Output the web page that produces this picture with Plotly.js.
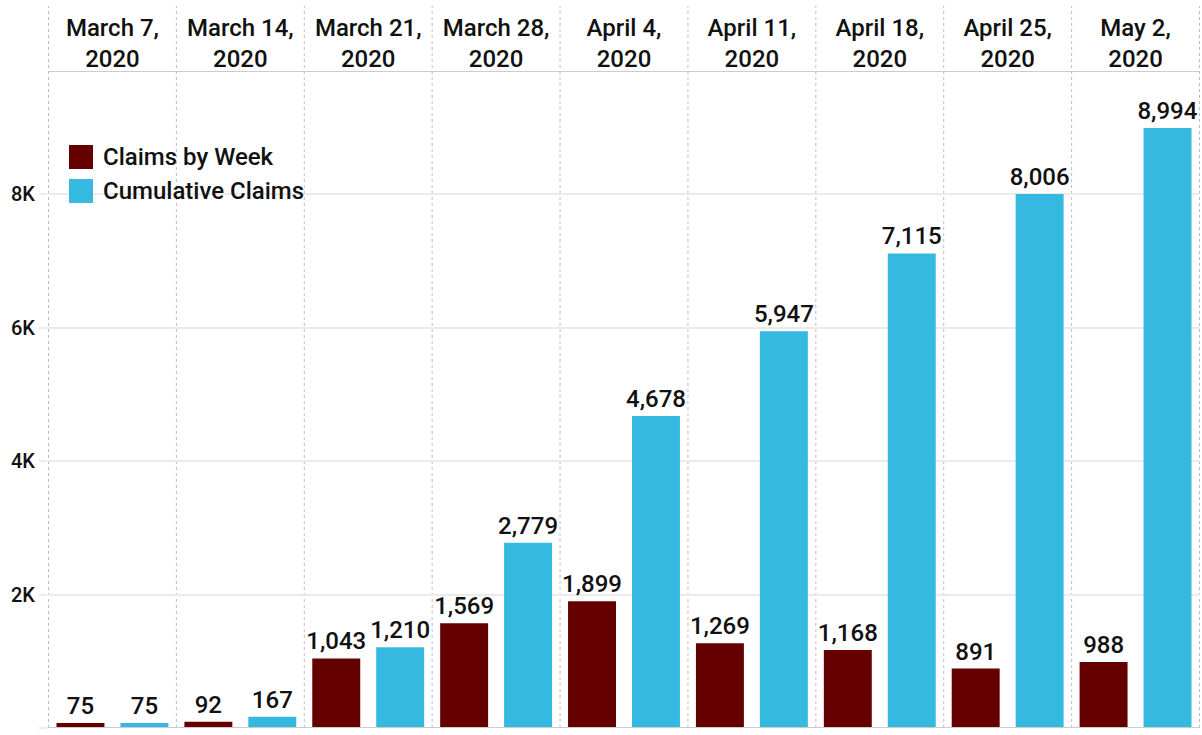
<!DOCTYPE html>
<html>
<head>
<meta charset="utf-8">
<script src="https://cdn.plot.ly/plotly-3.0.1.min.js"></script>
<style>html,body{margin:0;padding:0;background:#fff;}#chart{width:1202px;height:735px;}</style>
</head>
<body>
<div id="chart"></div>
<script>
const weeks = ["March 7,<br>2020","March 14,<br>2020","March 21,<br>2020","March 28,<br>2020","April 4,<br>2020","April 11,<br>2020","April 18,<br>2020","April 25,<br>2020","May 2,<br>2020"];
const claimsByWeek = [75, 92, 1043, 1569, 1899, 1269, 1168, 891, 988];
const cumulativeClaims = [75, 167, 1210, 2779, 4678, 5947, 7115, 8006, 8994];
const seriesNames = ["Claims by Week", "Cumulative Claims"];
const seriesColors = ["#650000", "#36B9E0"];
const yTickVals = [0, 2000, 4000, 6000, 8000];
const yTickText = ["0K", "2K", "4K", "6K", "8K"];

const FONT = "Roboto, 'DejaVu Sans', sans-serif";
const W = 1202, H = 735;
const M = {l: 48, r: 2, t: 72, b: 7};
const PW = W - M.l - M.r, PH = H - M.t - M.b;
const px = x => (x - M.l) / PW;
const py = y => (H - M.b - y) / PH;

const textFont = {family: FONT, size: 24, color: "#111", weight: 500};

const traces = [claimsByWeek, cumulativeClaims].map((vals, i) => ({
  type: "bar",
  name: seriesNames[i],
  x: weeks,
  y: vals,
  marker: {color: seriesColors[i]},
  text: vals.map(v => v.toLocaleString("en-US")),
  textposition: "outside",
  constraintext: "none",
  textfont: textFont,
  cliponaxis: false,
  hoverinfo: "x+y",
  showlegend: false
}));

const shapes = [];
for (let i = 0; i <= weeks.length; i++) {
  shapes.push({type: "line", xref: "x", yref: "paper", x0: i - 0.5, x1: i - 0.5, y0: 0, y1: py(6),
    line: {color: "#bdbdbd", width: 1, dash: "dot"}, layer: "below"});
}
shapes.push({type: "line", xref: "paper", yref: "y", x0: 0, x1: 1, y0: 0, y1: 0, line: {color: "#cccccc", width: 2}});

// custom legend
const annotations = [];
seriesNames.forEach((n, i) => {
  const top = 145 + i * 34;
  shapes.push({type: "rect", xref: "paper", yref: "paper", x0: px(69), x1: px(93), y0: py(top + 24), y1: py(top),
    fillcolor: seriesColors[i], line: {width: 0}});
  annotations.push({xref: "paper", yref: "paper", x: px(101), y: py(top + 12), xanchor: "left", yanchor: "middle",
    text: n, showarrow: false, font: {family: FONT, size: 24, color: "#111", weight: 500}});
});

const layout = {
  width: W, height: H,
  margin: M,
  paper_bgcolor: "#fff", plot_bgcolor: "#fff",
  barmode: "group", bargap: 0, bargroupgap: 0.25,
  showlegend: false,
  xaxis: {
    type: "category", side: "top", showline: true, linecolor: "#cccccc", linewidth: 1,
    showgrid: false, ticks: "", ticklabelstandoff: -6, tickfont: {family: FONT, size: 24, color: "#111", weight: 500},
    fixedrange: true, automargin: false
  },
  yaxis: {
    range: [0, 9835], tickvals: yTickVals, ticktext: yTickText, showgrid: true, gridcolor: "#ebebeb", gridwidth: 2,
    zeroline: false, showline: false, ticks: "outside", ticklen: 8, tickcolor: "#ebebeb", tickwidth: 2,
    tickfont: {family: FONT, size: 20, color: "#111", weight: 500}, fixedrange: true, automargin: false
  },
  shapes: shapes,
  annotations: annotations
};

Plotly.newPlot("chart", traces, layout, {displayModeBar: false, staticPlot: true});
</script>
</body>
</html>
